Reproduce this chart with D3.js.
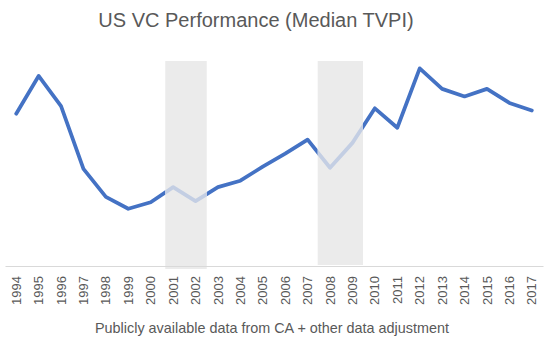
<!DOCTYPE html>
<html>
<head>
<meta charset="utf-8">
<script src="https://cdn.jsdelivr.net/npm/d3@7"></script>
<style>
  body { margin: 0; background: #fff; }
  svg { display: block; font-family: "Liberation Sans", "DejaVu Sans", sans-serif; }
</style>
</head>
<body>
<div class="wrapper"></div>
<script>
// chart data
var years = ["1994","1995","1996","1997","1998","1999","2000","2001","2002","2003","2004","2005",
  "2006","2007","2008","2009","2010","2011","2012","2013","2014","2015","2016","2017"];
var tvpi = [2.41, 2.76, 2.48, 1.90, 1.64, 1.53, 1.59, 1.73, 1.60, 1.73, 1.79, 1.92,
  2.04, 2.17, 1.91, 2.14, 2.46, 2.28, 2.83, 2.64, 2.57, 2.64, 2.51, 2.44];
// recession periods (fractional year positions)
var shadeStart = [2000.65, 2007.45];
var shadeEnd = [2002.5, 2009.47];
var shadeBottom = [269, 265];

var chartTitle = "US VC Performance (Median TVPI)";
var axisTitle = "Publicly available data from CA + other data adjustment";

var width = 552, height = 346;
var svg = d3.select(".wrapper").append("svg")
  .attr("width", width)
  .attr("height", height);

var x = d3.scaleBand()
  .domain(years)
  .range([5, 543]);
var y = d3.scaleLinear()
  .domain([1, 3])
  .range([266, 50]);

// fractional year -> pixel
function xf(yr) {
  return x(years[0]) + x.bandwidth() / 2 + (yr - +years[0]) * x.step();
}

var data = years.map(function(d, i) { return {year: d, value: tvpi[i]}; });

// shaded periods
var shades = shadeStart.map(function(s, i) { return {s: s, e: shadeEnd[i], b: shadeBottom[i]}; });
svg.append("g")
  .selectAll("rect")
  .data(shades)
  .enter().append("rect")
    .attr("x", function(d) { return xf(d.s); })
    .attr("y", 61)
    .attr("width", function(d) { return xf(d.e) - xf(d.s); })
    .attr("height", function(d) { return d.b - 61; })
    .attr("fill", "#ebebeb");

// axis line + labels
var xAxis = svg.append("g")
  .attr("transform", "translate(0,266)")
  .call(d3.axisBottom(x).tickSize(0).tickSizeOuter(0).tickPadding(0));
xAxis.select(".domain").attr("stroke", "#d9d9d9").attr("stroke-width", 1);
xAxis.selectAll(".tick line").remove();
xAxis.selectAll("text")
  .attr("transform", "rotate(-90)")
  .attr("x", -10)
  .attr("y", 0)
  .attr("dy", "0.35em")
  .attr("text-anchor", "end")
  .attr("fill", "#595959")
  .attr("font-size", 13)
  .attr("font-family", "Liberation Sans, sans-serif");

var line = d3.line()
  .x(function(d) { return x(d.year) + x.bandwidth() / 2; })
  .y(function(d) { return y(d.value); });

// clip for light segments inside shaded periods
var defs = svg.append("defs");
var clip = defs.append("clipPath").attr("id", "shadeClip");
clip.selectAll("rect")
  .data(shades)
  .enter().append("rect")
    .attr("x", function(d) { return xf(d.s); })
    .attr("y", 0)
    .attr("width", function(d) { return xf(d.e) - xf(d.s); })
    .attr("height", height);
var clipOut = defs.append("clipPath").attr("id", "outClip");
clipOut.append("path")
  .attr("clip-rule", "evenodd")
  .attr("d", function() {
    var p = "M0,0H" + width + "V" + height + "H0Z";
    shades.forEach(function(d) {
      p += "M" + xf(d.s) + ",0H" + xf(d.e) + "V" + height + "H" + xf(d.s) + "Z";
    });
    return p;
  });

svg.append("path")
  .datum(data)
  .attr("d", line)
  .attr("fill", "none")
  .attr("stroke", "#4472c4")
  .attr("stroke-width", 3.75)
  .attr("stroke-linejoin", "round")
  .attr("stroke-linecap", "round")
  .attr("clip-path", "url(#outClip)");

svg.append("path")
  .datum(data)
  .attr("d", line)
  .attr("fill", "none")
  .attr("stroke", "#c3cee3")
  .attr("stroke-width", 3.75)
  .attr("stroke-linejoin", "round")
  .attr("clip-path", "url(#shadeClip)");

// titles
svg.append("text")
  .attr("x", 256)
  .attr("y", 27)
  .attr("text-anchor", "middle")
  .attr("fill", "#595959")
  .attr("font-size", 20)
  .text(chartTitle);

svg.append("text")
  .attr("x", 272)
  .attr("y", 333)
  .attr("text-anchor", "middle")
  .attr("fill", "#595959")
  .attr("font-size", 14.4)
  .text(axisTitle);
</script>
</body>
</html>
